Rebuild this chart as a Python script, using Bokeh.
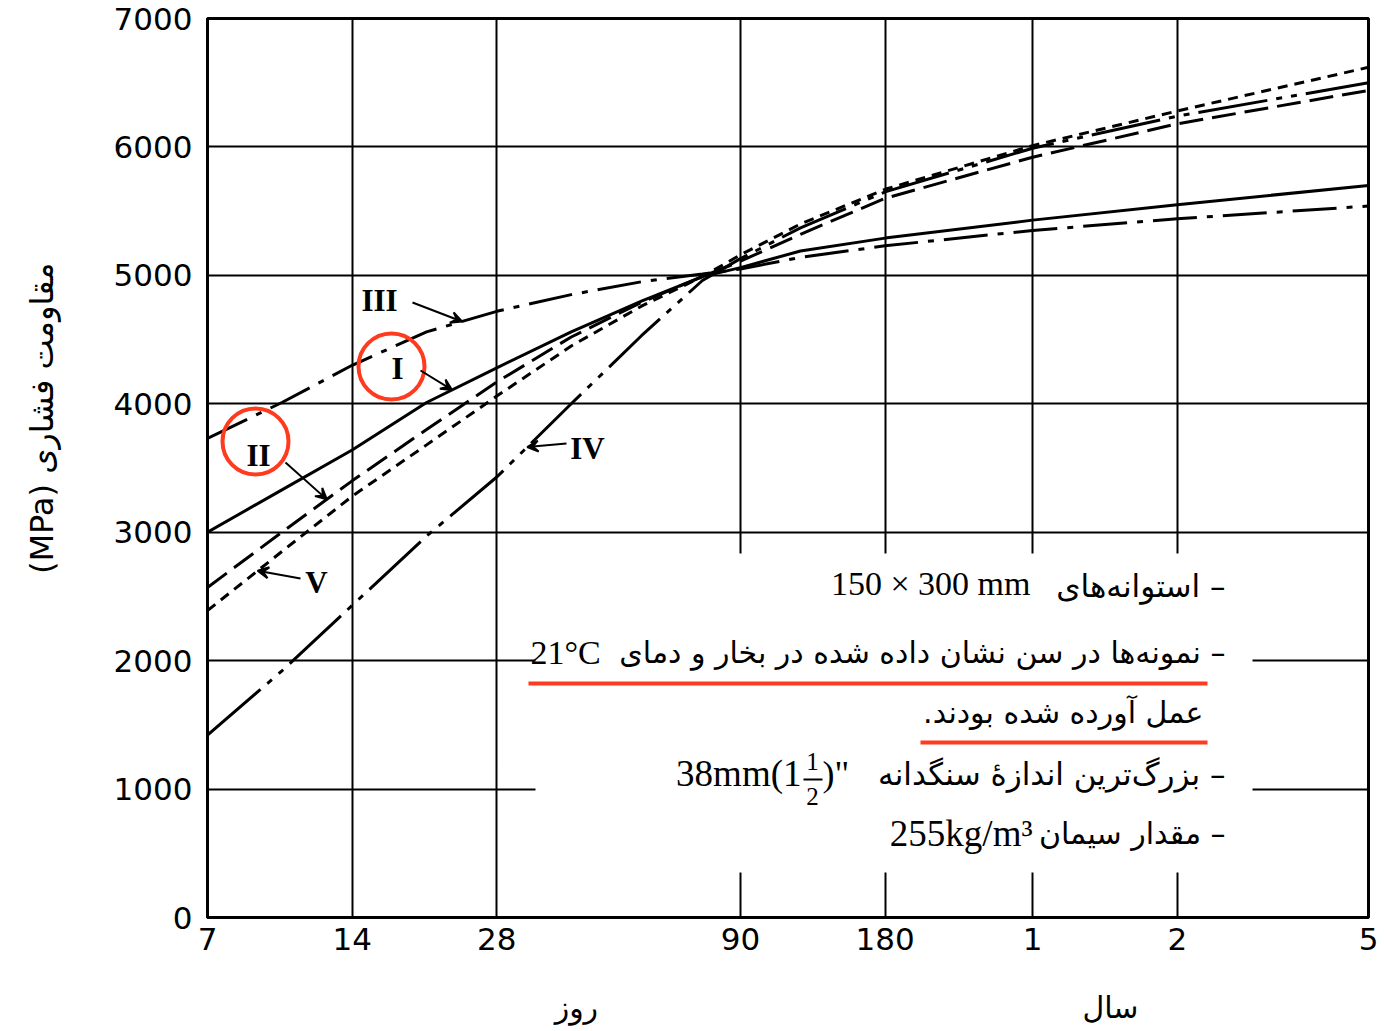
import numpy as np
from bokeh.plotting import figure
from bokeh.models import (Range1d, FixedTicker, Label, Arrow, VeeHead, BoxAnnotation,
                          LogAxis, LinearAxis)
from bokeh.embed import file_html
from bokeh.resources import INLINE

# ---------------- data ----------------
days = [7, 10, 14, 20, 28, 40, 56, 75, 90, 120, 180, 365, 730, 1825]
type_I = [3000, 3330, 3640, 4010, 4280, 4560, 4800, 4990, 5060, 5190, 5290, 5430, 5550, 5700]
type_II = [2570, 3000, 3400, 3800, 4170, 4520, 4790, 4990, 5110, 5320, 5600, 5920, 6180, 6440]
type_III = [3730, 4010, 4300, 4560, 4720, 4850, 4950, 5010, 5050, 5140, 5230, 5350, 5440, 5540]
type_IV = [1420, 1920, 2430, 2970, 3430, 4000, 4530, 4960, 5130, 5370, 5650, 5990, 6240, 6500]
type_V = [2390, 2850, 3280, 3680, 4060, 4450, 4760, 4990, 5160, 5400, 5670, 6010, 6280, 6620]

x_ticks = [7, 14, 28, 90, 180, 365, 730, 1825]
x_tick_labels = ["7", "14", "28", "90", "180", "1", "2", "5"]
y_ticks = [0, 1000, 2000, 3000, 4000, 5000, 6000, 7000]

# unit words under the time axis (days part / years part) and the y title
unit_ticks = [41, 530]
unit_labels = ["روز", "سال"]
y_title = "مقاومت فشاری (MPa)"

# ---------------- layout helpers (page pixels -> data) ----------------
FL, FR, FT, FB = 207, 1368, 18, 917
W, H = 1378, 1028
X0, X1, Y0, Y1 = 7, 1825, 0, 7000


def dx(px):
    return X0 * (X1 / X0) ** ((px - FL) / (FR - FL))


def dy(py):
    return Y0 + (FB - py) * (Y1 - Y0) / (FB - FT)


def on_curve(day, series):
    return float(np.interp(np.log(day), np.log(days), series))


RLE, PDF = "\u202b", "\u202c"


def fa(s):
    return RLE + s + PDF


p = figure(width=W, height=H, x_axis_type="log",
           x_range=Range1d(X0, X1), y_range=Range1d(Y0, Y1),
           output_backend="svg", toolbar_location=None,
           min_border_left=FL, min_border_right=W - FR,
           min_border_top=FT, min_border_bottom=H - FB)
p.background_fill_color = "white"
p.border_fill_color = "white"
p.outline_line_color = "black"
p.outline_line_width = 3

# grid
p.xgrid.ticker = FixedTicker(ticks=x_ticks)
p.ygrid.ticker = FixedTicker(ticks=y_ticks)
for g in (p.xgrid, p.ygrid):
    g.grid_line_color = "black"
    g.grid_line_width = 2
    g.grid_line_alpha = 1

# axes
tick_font = "DejaVu Sans"
p.xaxis.ticker = FixedTicker(ticks=x_ticks)
p.xaxis.major_label_overrides = {t: l for t, l in zip(x_ticks, x_tick_labels)}
p.yaxis.ticker = FixedTicker(ticks=y_ticks)
for ax in (p.xaxis, p.yaxis):
    ax.axis_line_color = "black"
    ax.axis_line_width = 3
    ax.major_tick_in = 0
    ax.major_tick_out = 0
    ax.minor_tick_line_color = None
    ax.major_label_text_font = tick_font
    ax.major_label_text_font_size = "31px"
    ax.major_label_text_color = "black"
p.xaxis.major_label_standoff = 10
p.yaxis.major_label_standoff = 15

fa_font = "DejaVu Sans"

# extra axes that carry the Persian unit words and the y title
unit_axis = LogAxis(ticker=FixedTicker(ticks=unit_ticks),
                    major_label_overrides={t: fa(l) for t, l in zip(unit_ticks, unit_labels)},
                    axis_line_color=None, major_tick_line_color=None, minor_tick_line_color=None,
                    major_label_text_font=fa_font, major_label_text_font_size="30px",
                    major_label_text_color="black", major_label_standoff=31)
p.add_layout(unit_axis, "below")

title_tick = int(round(dy(262)))
title_axis = LinearAxis(ticker=FixedTicker(ticks=[title_tick]),
                        major_label_overrides={title_tick: fa(y_title)},
                        major_label_orientation=np.pi / 2,
                        axis_line_color=None, major_tick_line_color=None, minor_tick_line_color=None,
                        major_label_text_font=fa_font, major_label_text_font_size="32px",
                        major_label_text_color="black", major_label_standoff=62)
p.add_layout(title_axis, "left")

# white panel that interrupts the grid behind the notes
p.add_layout(BoxAnnotation(left=dx(535), right=dx(1252), bottom=dy(872), top=dy(553),
                           fill_color="white", fill_alpha=1, line_color=None))

# curves
lw = 3
p.line(days, type_I, line_color="black", line_width=lw)
p.line(days, type_II, line_color="black", line_width=lw, line_dash="24 9")
p.line(days, type_III, line_color="black", line_width=lw, line_dash="44 10 6 10")
p.line(days, type_IV, line_color="black", line_width=lw, line_dash="70 9 6 9 6 9")
p.line(days, type_V, line_color="black", line_width=lw, line_dash="10 7")

# roman numeral labels with arrows
serif = "Liberation Serif"
labels = [
    ("III", 379, 300, 412, 302, 23.7, type_III),
    ("I", 397, 368, 420, 370, 22.6, type_I),
    ("II", 258, 455, 285, 462, 12.4, type_II),
    ("IV", 587, 448, 566, 443, 32.4, type_IV),
    ("V", 316, 582, 300, 578, 8.9, type_V),
]
for txt, lx, ly, sx, sy, tip, ser in labels:
    p.add_layout(Label(x=dx(lx), y=dy(ly), text=txt, text_font=serif,
                       text_font_style="bold", text_font_size="31px",
                       text_align="center", text_baseline="middle", text_color="black"))
    p.add_layout(Arrow(x_start=dx(sx), y_start=dy(sy), x_end=tip, y_end=on_curve(tip, ser),
                       line_width=2, line_color="black",
                       end=VeeHead(size=11, line_color="black", fill_color="black", line_width=2)))

# red highlight circles
red = "#ff3b1f"
p.scatter(x=[dx(391), dx(255)], y=[dy(366), dy(441)], size=66, marker="circle",
          fill_color=None, line_color=red, line_width=4)


def rule(x0, x1, y, color, width):
    p.add_layout(Arrow(x_start=dx(x0), y_start=dy(y), x_end=dx(x1), y_end=dy(y),
                       line_color=color, line_width=width, end=None))


# notes
fa_size = "30px"
lat_size = "34px"


def note(x, y, text, align, font=fa_font, size=fa_size):
    p.add_layout(Label(x=dx(x), y=dy(y), text=text, text_font=font, text_font_size=size,
                       text_align=align, text_baseline="middle", text_color="black"))


note(1225, 585, fa("– استوانه\u200cهای"), "right", fa_font, "31px")
note(1030, 583, "150 × 300 mm", "right", serif, lat_size)
note(1225, 652, fa("– نمونه\u200cها در سن نشان داده شده در بخار و دمای"), "right")
note(530, 652, "21°C", "left", serif, lat_size)
note(1203, 712, fa("عمل آورده شده بودند."), "right")
note(1225, 773, fa("– بزرگ\u200cترین اندازهٔ سنگدانه"), "right", fa_font, "31px")
note(801, 773, "38mm(1", "right", serif, "37px")
note(812, 761, "1", "center", serif, "25px")
note(812, 796, "2", "center", serif, "25px")
note(822, 773, ")\"", "left", serif, "36px")
rule(803, 822, 779, "black", 2)
note(1225, 833, fa("– مقدار سیمان"), "right")
note(1032, 833, "255kg/m³", "right", serif, "37px")

# red underlines
rule(528, 1207, 683, red, 4)
rule(920, 1207, 742, red, 4)

open("out.html", "w").write(file_html(p, INLINE))
